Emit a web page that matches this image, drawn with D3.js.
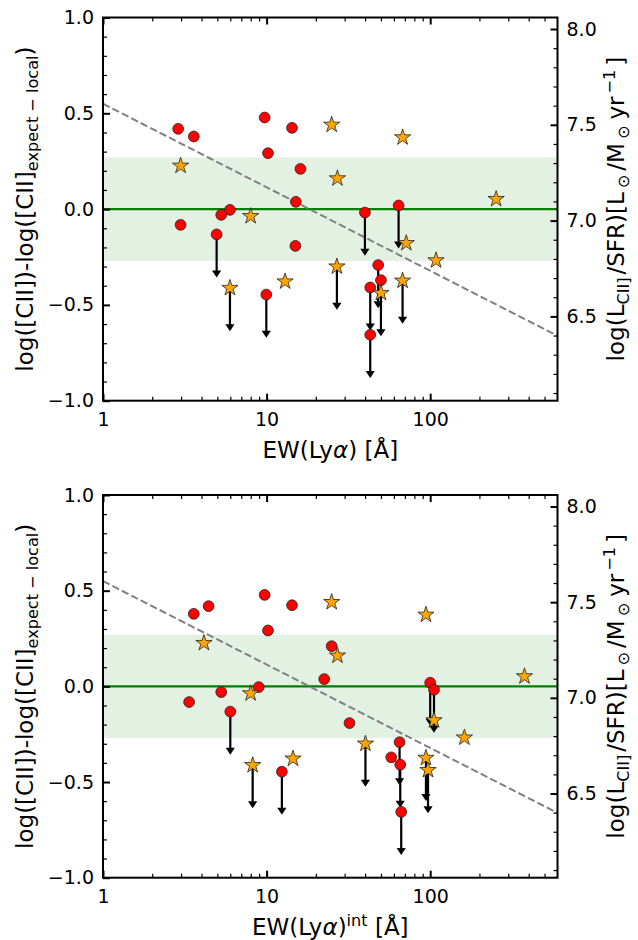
<!DOCTYPE html>
<html><head><meta charset="utf-8">
<script src="https://cdn.jsdelivr.net/npm/d3@7"></script>
<style>body{margin:0;background:#fff}svg{display:block}text{font-family:"DejaVu Sans",sans-serif;fill:#000}</style>
</head><body><svg id="c" width="638" height="940"></svg>
<script>
// ---- data ----
// red circles
const circleEW    = [2.88, 3.59, 9.73, 14.3, 10.2, 16.1, 15.1, 5.97, 2.98, 5.28, 4.95, 15.0, 9.96, 64.1, 39.9, 48.1, 50.0, 43.0, 43.0];
const circleEWint = [4.42, 3.59, 9.73, 14.3, 10.2, 25.0, 22.5, 8.95, 3.36, 5.28, 6.0, 32.1, 12.4, 100, 105.5, 65.0, 57.8, 65.6, 66.5];
const circleY     = [0.419, 0.379, 0.478, 0.424, 0.292, 0.210, 0.038, -0.004, -0.082, -0.030, -0.132, -0.192, -0.446, 0.019, -0.018, -0.292, -0.371, -0.409, -0.656];
const circleUL    = [0, 0, 0, 0, 0, 0, 0, 0, 0, 0, 1, 0, 1, 1, 1, 1, 0, 1, 1];
// orange stars
const starEW    = [2.98, 25.0, 67.8, 27.1, 253, 7.99, 5.97, 12.97, 26.9, 71.4, 108.6, 50.0, 67.8];
const starEWint = [4.14, 25.0, 94.2, 27.1, 377, 7.99, 8.22, 14.5, 40.2, 105.5, 161.8, 97.0, 94.2];
const starY     = [0.226, 0.44, 0.374, 0.160, 0.052, -0.037, -0.412, -0.378, -0.300, -0.178, -0.268, -0.438, -0.374];
const starUL    = [0, 0, 0, 0, 0, 0, 1, 0, 1, 0, 0, 1, 1];
// reference lines
const fitIntercept = 0.55, fitSlope = -0.436;   // y = a + b*log10(EW)
const bandHalf = 0.27;
const arrowLen = 0.225;
const rightOffset = 7.06;                        // right axis = left axis + offset
// ticks
const xTicks = [1, 10, 100];
const xMinor = [2,3,4,5,6,7,8,9,20,30,40,50,60,70,80,90,200,300,400,500];
const yTicks = [-1, -0.5, 0, 0.5, 1];
const y2Ticks = [6.5, 7.0, 7.5, 8.0];

// ---- drawing ----
const svg = d3.select("#c");
const L = 103, R = 557.5;
const fmt1 = d3.format(".1f");
const LF = 23, SF = 16.1;
const panels = [
  {top: 17.5, bottom: 400.7, cx: circleEW, sx: starEW, sup: null},
  {top: 495, bottom: 877.7, cx: circleEWint, sx: starEWint, sup: "int"}
];

panels.forEach((p, pi) => {
  const x = d3.scaleLog().domain([1, 600]).range([L, R]);
  const y = d3.scaleLinear().domain([-1, 1]).range([p.bottom, p.top]);
  const y2 = d3.scaleLinear().domain([-1 + rightOffset, 1 + rightOffset]).range([p.bottom, p.top]);
  const g = svg.append("g");
  const clipId = "clip" + pi;
  g.append("clipPath").attr("id", clipId).append("rect")
    .attr("x", L).attr("y", p.top).attr("width", R - L).attr("height", p.bottom - p.top);
  const plot = g.append("g").attr("clip-path", `url(#${clipId})`);

  plot.append("rect").attr("x", L).attr("width", R - L)
    .attr("y", y(bandHalf)).attr("height", y(-bandHalf) - y(bandHalf))
    .attr("fill", "green").attr("fill-opacity", 0.11);
  plot.append("line").attr("x1", L).attr("x2", R).attr("y1", y(0)).attr("y2", y(0))
    .attr("stroke", "green").attr("stroke-width", 2.2);
  const xs = [1, 600];
  plot.append("line")
    .attr("x1", x(xs[0])).attr("y1", y(fitIntercept + fitSlope * Math.log10(xs[0])))
    .attr("x2", x(xs[1])).attr("y2", y(fitIntercept + fitSlope * Math.log10(xs[1])))
    .attr("stroke", "gray").attr("stroke-width", 2).attr("stroke-dasharray", "7.4,3.2");

  // arrows (upper limits)
  const arrows = [];
  p.cx.forEach((v, i) => { if (circleUL[i]) arrows.push([v, circleY[i]]); });
  p.sx.forEach((v, i) => { if (starUL[i]) arrows.push([v, starY[i]]); });
  const ag = plot.append("g");
  arrows.forEach(([ex, ey]) => {
    const px = x(ex), y0 = y(ey), tip = y(ey - arrowLen), hl = 7, hw = 4.6;
    ag.append("line").attr("x1", px).attr("x2", px).attr("y1", y0).attr("y2", tip - hl + 1)
      .attr("stroke", "#000").attr("stroke-width", 2.2);
    ag.append("path").attr("d", `M${px - hw},${tip - hl}L${px + hw},${tip - hl}L${px},${tip}Z`)
      .attr("fill", "#000");
  });

  // circles
  plot.append("g").selectAll("circle").data(p.cx).join("circle")
    .attr("cx", d => x(d)).attr("cy", (d, i) => y(circleY[i])).attr("r", 5.4)
    .attr("fill", "red").attr("stroke", "#222").attr("stroke-width", 0.8);
  // stars
  const star = d3.symbol().type(d3.symbolStar).size(82);
  plot.append("g").selectAll("path").data(p.sx).join("path")
    .attr("d", star).attr("transform", (d, i) => `translate(${x(d)},${y(starY[i])})`)
    .attr("fill", "orange").attr("stroke", "#222").attr("stroke-width", 0.8);

  // axes
  const styleAx = (sel, w) => { sel.select(".domain").remove(); sel.selectAll("line").attr("stroke-width", w).attr("stroke", "#000"); sel.selectAll("text").attr("font-size", 19).attr("font-family", "DejaVu Sans"); };
  const bx = g.append("g").attr("transform", `translate(0,${p.bottom})`)
    .call(d3.axisBottom(x).tickValues(xTicks).tickFormat(d3.format("d")).tickSize(-7).tickPadding(12));
  styleAx(bx, 2);
  const bxm = g.append("g").attr("transform", `translate(0,${p.bottom})`)
    .call(d3.axisBottom(x).tickValues(xMinor).tickFormat("").tickSize(-4));
  styleAx(bxm, 1.2);
  const tx = g.append("g").attr("transform", `translate(0,${p.top})`)
    .call(d3.axisTop(x).tickValues(xTicks).tickFormat("").tickSize(-7));
  styleAx(tx, 2);
  const txm = g.append("g").attr("transform", `translate(0,${p.top})`)
    .call(d3.axisTop(x).tickValues(xMinor).tickFormat("").tickSize(-4));
  styleAx(txm, 1.2);

  const ly = g.append("g").attr("transform", `translate(${L},0)`)
    .call(d3.axisLeft(y).tickValues(yTicks).tickFormat(fmt1).tickSize(-7).tickPadding(9));
  styleAx(ly, 2);
  const lym = g.append("g").attr("transform", `translate(${L},0)`)
    .call(d3.axisLeft(y).tickValues(d3.range(-9, 10).map(k => k / 10).filter(v => Math.abs(v * 2 - Math.round(v * 2)) > 1e-6)).tickFormat("").tickSize(-4));
  styleAx(lym, 1.2);

  const ry = g.append("g").attr("transform", `translate(${R},0)`)
    .call(d3.axisRight(y2).tickValues(y2Ticks).tickFormat(fmt1).tickSize(-7).tickPadding(9));
  styleAx(ry, 2);
  const rMinor = d3.range(61, 81).map(k => k / 10).filter(v => Math.abs(v * 2 - Math.round(v * 2)) > 1e-6);
  const rym = g.append("g").attr("transform", `translate(${R},0)`)
    .call(d3.axisRight(y2).tickValues(rMinor).tickFormat("").tickSize(-4));
  styleAx(rym, 1.2);

  // frame
  g.append("rect").attr("x", L).attr("y", p.top).attr("width", R - L).attr("height", p.bottom - p.top)
    .attr("fill", "none").attr("stroke", "#000").attr("stroke-width", 2);

  // x label
  const xl = g.append("text").attr("x", (L + R) / 2).attr("y", p.bottom + 57)
    .attr("text-anchor", "middle").attr("font-size", LF);
  xl.append("tspan").text("EW(Ly");
  xl.append("tspan").attr("font-style", "italic").text("α");
  xl.append("tspan").text(")");
  if (p.sup) {
    xl.append("tspan").attr("font-size", SF).attr("dy", -9).text(p.sup);
    xl.append("tspan").attr("dy", 9).text(" [Å]");
  } else {
    xl.append("tspan").text(" [Å]");
  }

  // left y label
  const cy = (p.top + p.bottom) / 2;
  const yl = g.append("text").attr("transform", `translate(33,${cy}) rotate(-90)`)
    .attr("text-anchor", "middle").attr("font-size", LF);
  yl.append("tspan").text("log([CII])-log([CII]");
  yl.append("tspan").attr("font-size", SF).attr("dy", 5).text("expect − local");
  yl.append("tspan").attr("dy", -5).text(")");

  // right y label
  const rl = g.append("text").attr("transform", `translate(624,${cy}) rotate(-90)`)
    .attr("text-anchor", "middle").attr("font-size", LF);
  rl.append("tspan").text("log(L");
  rl.append("tspan").attr("font-size", SF).attr("dy", 5).text("CII]");
  rl.append("tspan").attr("dy", -5).attr("dx", 3).text("/SFR)[L");
  rl.append("tspan").attr("font-size", SF).attr("dy", 5).attr("dx", 4).text("⊙");
  rl.append("tspan").attr("dy", -5).attr("dx", 4).text("/M");
  rl.append("tspan").attr("font-size", SF).attr("dy", 5).attr("dx", 4).text("⊙");
  rl.append("tspan").attr("dy", -5).attr("dx", 6).text("yr");
  rl.append("tspan").attr("font-size", SF).attr("dy", -9).attr("dx", 3).text("−1");
  rl.append("tspan").attr("dy", 9).attr("dx", 4).text("]");
});
</script></body></html>
